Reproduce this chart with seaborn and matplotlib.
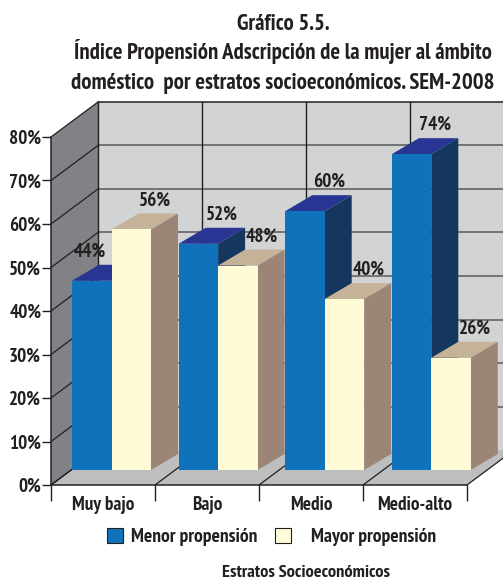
import matplotlib
matplotlib.use("Agg")
import matplotlib.pyplot as plt
import pandas as pd
import seaborn as sns

categories = ["Muy bajo", "Bajo", "Medio", "Medio-alto"]
series_names = ["Menor propensión", "Mayor propensión"]
menor_labels = [44, 52, 60, 74]
mayor_labels = [56, 48, 40, 26]
# bar heights as read against the axis scale of the picture
menor_heights = [43.5, 52.0, 59.5, 72.6]
mayor_heights = [55.3, 47.0, 39.3, 25.8]
y_ticks = [0, 10, 20, 30, 40, 50, 60, 70, 80]

W, H = 503, 582
sns.set_theme(style="white")
FAM = ["PT Sans Narrow", "Liberation Sans Narrow", "Liberation Sans", "DejaVu Sans"]
plt.rcParams["font.family"] = FAM
INK = "#231f20"

fig = plt.figure(figsize=(W / 100, H / 100), dpi=100, facecolor="white")

# ---------- front plane: axis frame, walls and floor ----------
fx0, fx1, fy0, fy1 = 51, 467, 485, 137
frame = fig.add_axes([fx0 / W, 1 - fy0 / H, (fx1 - fx0) / W, (fy0 - fy1) / H])
frame.set_xlim(0, 4)
frame.set_ylim(0, 80)
frame.patch.set_alpha(0)
for s in ("top", "right"):
    frame.spines[s].set_visible(False)
for s in ("left", "bottom"):
    frame.spines[s].set_color(INK)
    frame.spines[s].set_linewidth(1.1)
    frame.spines[s].set_zorder(6)

ux = (fx1 - fx0) / 4
uy = (fy0 - fy1) / 80
dx, dy = 47 / ux, 35 / uy

frame.fill([dx, 4 + dx, 4 + dx, dx], [dy, dy, 80 + dy, 80 + dy],
           color="#d1d3d4", lw=0, clip_on=False, zorder=1)
frame.fill([0, dx, dx, 0], [0, dy, 80 + dy, 80], color="#808285", lw=0,
           clip_on=False, zorder=1)
frame.fill([0, 4, 4 + dx, dx], [0, 0, dy, dy], color="#bcbec0", lw=0,
           clip_on=False, zorder=1)
for t in y_ticks[1:]:
    frame.plot([dx, 4 + dx], [t + dy, t + dy],
               color=INK if t == 80 else "#58595b", lw=1.1, clip_on=False, zorder=2)
for t in y_ticks[1:]:
    frame.plot([0, dx], [t, t + dy], color=INK, lw=0.9, clip_on=False, zorder=2)
frame.plot([0, dx], [0, dy], color=INK, lw=0.9, clip_on=False, zorder=2)
for i in range(5):
    frame.plot([i + dx, i + dx], [dy, 80 + dy], color=INK, lw=1.0, clip_on=False, zorder=2)
    frame.plot([i, i + dx], [0, dy], color=INK, lw=0.9, clip_on=False, zorder=2)

frame.set_yticks(y_ticks)
frame.set_yticklabels([f"{t}%" for t in y_ticks])
frame.set_xticks(range(5))
frame.set_xticklabels([""] * 5)
frame.set_xticks([i + 0.5 for i in range(4)], minor=True)
frame.set_xticklabels(categories, minor=True)
frame.tick_params(axis="y", length=6.5, width=1, color=INK, pad=0.5,
                  labelsize=13.8, labelcolor=INK, left=True)
frame.tick_params(axis="x", which="major", length=11.5, width=1, color=INK, bottom=True)
frame.tick_params(axis="x", which="minor", length=0, pad=8, labelsize=13.8, labelcolor=INK)
for lab in frame.get_yticklabels() + frame.get_xticklabels(minor=True):
    lab.set_fontweight("bold")

# ---------- bars ----------
ax = fig.add_axes([0, 0, 1, 1], zorder=5)
df = pd.DataFrame({
    "estrato": categories * 2,
    "serie": [series_names[0]] * 4 + [series_names[1]] * 4,
    "valor": menor_heights + mayor_heights,
})
sns.barplot(data=df, x="estrato", y="valor", hue="serie", order=categories,
            hue_order=series_names, palette=["#0f72bb", "#fffbd6"], saturation=1,
            width=0.741, gap=0, ax=ax, errorbar=None, linewidth=0)
handles, _ = ax.get_legend_handles_labels()
if ax.get_legend():
    ax.get_legend().remove()

px_x, px_y = 106.6, 4.35
ax.set_xlim(-111.5 / px_x, (W - 111.5) / px_x)
ax.set_ylim(-(H - 470) / px_y, 470 / px_y)
ax.axis("off")
ax.patch.set_alpha(0)

bdx, bdy = 27 / px_x, 16 / px_y
styles = [("#283593", "#14365f"), ("#c4b299", "#9c8576")]
label_sets = [menor_labels, mayor_labels]
for c in range(4):
    for s in range(2):
        bar = ax.containers[s][c]
        z = 10 + (c * 2 + s) * 2
        x0, w, h = bar.get_x(), bar.get_width(), bar.get_height()
        bar.set_zorder(z + 1)
        top_c, side_c = styles[s]
        ax.fill([x0, x0 + w, x0 + w + bdx, x0 + bdx], [h, h, h + bdy, h + bdy],
                color=top_c, lw=0, zorder=z)
        ax.fill([x0 + w, x0 + w + bdx, x0 + w + bdx, x0 + w], [0, bdy, h + bdy, h],
                color=side_c, lw=0, zorder=z)
        # value label, above the top face and shifted towards the depth side
        shift = -2 if (c == 0 and s == 0) else 24
        ax.annotate(f"{label_sets[s][c]}%", (x0 + w / 2, h), xytext=(shift * 0.72, 29 * 0.72),
                    textcoords="offset points", ha="center", va="center",
                    fontsize=13.8, fontweight="bold", color=INK, zorder=50)

# ---------- legend and titles ----------
for h in handles:
    h.set_edgecolor(INK)
    h.set_linewidth(0.8)
fig.legend(handles, ["Menor propensión", "   Mayor propensión"], ncols=2, frameon=False,
           loc="center", bbox_to_anchor=(271.5 / W, 1 - 537 / H),
           handlelength=0.82, handleheight=0.82, handletextpad=0.4, columnspacing=0.9,
           prop={"family": FAM, "weight": "bold", "size": 14}, labelcolor=INK)
fig.text(306 / W, 1 - 573 / H, "Estratos Socioeconómicos", ha="center", va="center",
         fontsize=13.2, fontweight="bold", color=INK)
for txt, yy in [("Gráfico 5.5.", 25),
                ("Índice Propensión Adscripción de la mujer al ámbito", 52),
                ("doméstico  por estratos socioeconómicos. SEM-2008", 84)]:
    fig.text(283 / W, 1 - yy / H, txt, ha="center", va="center", fontsize=16.4,
             fontweight="bold", color=INK)

fig.savefig("out.png", dpi=100)
